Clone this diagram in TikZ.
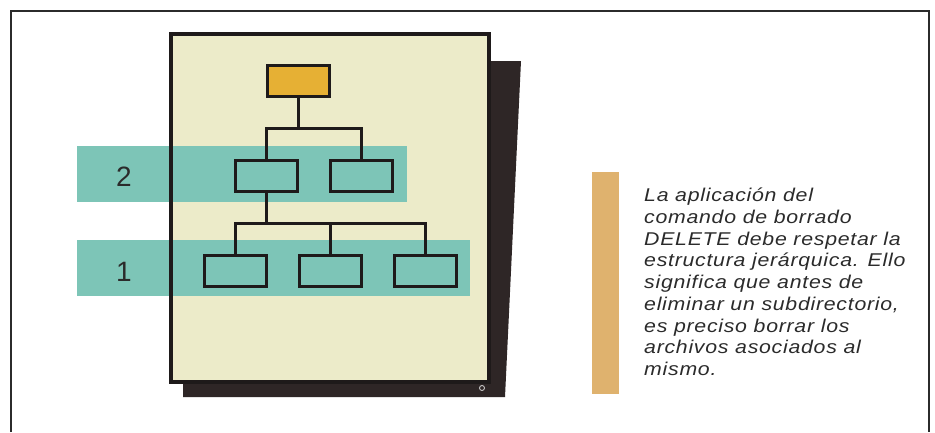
\documentclass[tikz,border=0pt]{standalone}
\usepackage{fontspec}
\setmainfont{Liberation Sans}
\newfontfamily\notefont[LetterSpace=4, FakeStretch=1.15]{Liberation Sans}
\usepackage{xcolor}
\definecolor{cpanel}{HTML}{ECEBC9}
\definecolor{cshadow}{HTML}{2E2626}
\definecolor{cband}{HTML}{7DC5B7}
\definecolor{croot}{HTML}{E6B034}
\definecolor{cbar}{HTML}{DFB26E}
\definecolor{cline}{HTML}{1E1A1A}
\definecolor{ctext}{HTML}{2B2B2B}
\tikzset{
  dirbox/.style={rectangle, draw=cline, line width=3pt, fill=cband,
    minimum width=62pt, minimum height=31pt, inner sep=0pt},
  rootbox/.style={dirbox, fill=croot},
  band/.style={fill=cband, draw=none},
  link/.style={draw=cline, line width=3pt},
  lvl/.style={font=\fontsize{28}{30}\selectfont, text=ctext, inner sep=0pt},
  note/.style={anchor=north west, inner sep=0pt, align=left, text=ctext,
    font=\notefont\itshape\fontsize{18.5}{21.7}\selectfont},
}

\begin{document}
\begin{tikzpicture}[x=1pt, y=-1pt]
  \useasboundingbox (0,0) rectangle (935,432);
  \fill[white] (0,0) rectangle (935,432);
  \draw[ctext, line width=1.5pt] (11,432) |- (929,11) -- (929,432);

  % sheet with its shadow
  \fill[cshadow] (480,61) -- (521,61) -- (505,397) -- (183,397) -- (183,370) -- (480,370) -- cycle;
  \fill[cpanel] (171,34) rectangle (489,382);
  \fill[band] (77,146) rectangle (407,202);
  \fill[band] (77,240) rectangle (470,296);
  \draw[cline, line width=3.5pt] (171,34) rectangle (489,382);
  \draw[white!70!gray, line width=0.8pt] (482,388) circle (2.5pt);

  \node[lvl] (lvltwo) at (124,177) {2};
  \node[lvl] (lvlone) at (124,272) {1};

  % directory tree
  \node[rootbox] (root) at (298,80.5) {};
  \node[dirbox] (suba) at (266,176) {};
  \node[dirbox] (subb) at (361,176) {};
  \node[dirbox] (fila) at (235.5,271) {};
  \node[dirbox] (filb) at (330,271) {};
  \node[dirbox] (filc) at (425,271) {};
  \coordinate (jone) at (298,128);
  \coordinate (jtwo) at (266,223);

  \draw[link] (root.south) -- (jone);
  \draw[link] (suba.north) |- (jone) -| (subb.north);
  \draw[link] (suba.south) -- (jtwo);
  \draw[link] (fila.north) |- (jtwo) -| (filc.north);
  \draw[link] (filb.north) -- (filb.north |- jtwo);

  % note
  \fill[cbar] (592,172) rectangle (619,394);
  \node[note] (text) at (644,188) {La aplicación del\\comando de borrado\\DELETE debe respetar la\\estructura jerárquica. Ello\\significa que antes de\\eliminar un subdirectorio,\\es preciso borrar los\\archivos asociados al\\mismo.};
\end{tikzpicture}
\end{document}
